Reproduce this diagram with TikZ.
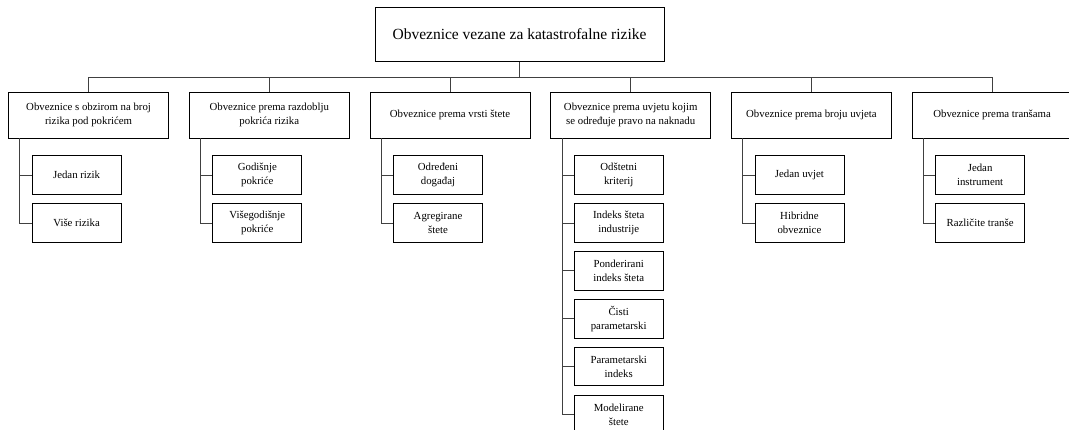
\documentclass[tikz,border=0pt]{standalone}
\usepackage{fontspec}
\setmainfont{Liberation Serif}
\usetikzlibrary{positioning}

\begin{document}
\begin{tikzpicture}[
        node distance=8.7pt and 20pt,
        root/.style={rectangle, draw=black, line width=0.7pt, minimum width=289pt, minimum height=54.4pt, align=center, font=\fontsize{15.5}{18}\selectfont},
        group/.style={rectangle, draw=black, line width=0.7pt, minimum width=160pt, minimum height=46pt, align=center, inner sep=2pt, font=\fontsize{10.8}{14}\selectfont},
        leaf/.style={rectangle, draw=black, line width=0.7pt, minimum width=89pt, minimum height=38.5pt, align=center, inner sep=2pt, font=\fontsize{10.8}{14}\selectfont},
        link/.style={draw=black!75, line width=0.7pt}
    ]
        \useasboundingbox (0,0) rectangle (1069pt,-429pt);

        \node[root] (ROOT) at (519.5pt,-34.5pt) {Obveznice vezane za katastrofalne rizike};
        \coordinate (BUS) at (0,-77pt);

        \node[group] (B1) at (88.6pt,-115pt) {Obveznice s obzirom na broj\\rizika pod pokrićem};
        \node[group, right=of B1] (B2) {Obveznice prema razdoblju\\pokrića rizika};
        \node[group, right=of B2] (B3) {Obveznice prema vrsti štete};
        \node[group, right=of B3] (B4) {Obveznice prema uvjetu kojim\\se određuje pravo na naknadu};
        \node[group, right=of B4] (B5) {Obveznice prema broju uvjeta};
        \node[group, right=of B5] (B6) {Obveznice prema tranšama};

        \node[leaf, below right=17pt and 23.5pt of B1.south west] (C11) {Jedan rizik};
        \node[leaf, below=of C11] (C12) {Više rizika};

        \node[leaf, below right=17pt and 23.5pt of B2.south west] (C21) {Godišnje\\pokriće};
        \node[leaf, below=of C21] (C22) {Višegodišnje\\pokriće};

        \node[leaf, below right=17pt and 23.5pt of B3.south west] (C31) {Određeni\\događaj};
        \node[leaf, below=of C31] (C32) {Agregirane\\štete};

        \node[leaf, below right=17pt and 23.5pt of B4.south west] (C41) {Odštetni\\kriterij};
        \node[leaf, below=of C41] (C42) {Indeks šteta\\industrije};
        \node[leaf, below=of C42] (C43) {Ponderirani\\indeks šteta};
        \node[leaf, below=of C43] (C44) {Čisti\\parametarski};
        \node[leaf, below=of C44] (C45) {Parametarski\\indeks};
        \node[leaf, below=of C45] (C46) {Modelirane\\štete};

        \node[leaf, below right=17pt and 23.5pt of B5.south west] (C51) {Jedan uvjet};
        \node[leaf, below=of C51] (C52) {Hibridne\\obveznice};

        \node[leaf, below right=17pt and 23.5pt of B6.south west] (C61) {Jedan\\instrument};
        \node[leaf, below=of C61] (C62) {Različite tranše};

        \draw[link] (ROOT.south) -- (ROOT.south |- BUS);
        \draw[link] (B1.north |- BUS) -- (B6.north |- BUS);
        \draw[link] (B1.north) -- (B1.north |- BUS);
        \draw[link] (B2.north) -- (B2.north |- BUS);
        \draw[link] (B3.north) -- (B3.north |- BUS);
        \draw[link] (B4.north) -- (B4.north |- BUS);
        \draw[link] (B5.north) -- (B5.north |- BUS);
        \draw[link] (B6.north) -- (B6.north |- BUS);

        \draw[link] ([xshift=11.5pt]B1.south west) |- (C11.west);
        \draw[link] ([xshift=11.5pt]B1.south west) |- (C12.west);
        \draw[link] ([xshift=11.5pt]B2.south west) |- (C21.west);
        \draw[link] ([xshift=11.5pt]B2.south west) |- (C22.west);
        \draw[link] ([xshift=11.5pt]B3.south west) |- (C31.west);
        \draw[link] ([xshift=11.5pt]B3.south west) |- (C32.west);
        \draw[link] ([xshift=11.5pt]B4.south west) |- (C41.west);
        \draw[link] ([xshift=11.5pt]B4.south west) |- (C42.west);
        \draw[link] ([xshift=11.5pt]B4.south west) |- (C43.west);
        \draw[link] ([xshift=11.5pt]B4.south west) |- (C44.west);
        \draw[link] ([xshift=11.5pt]B4.south west) |- (C45.west);
        \draw[link] ([xshift=11.5pt]B4.south west) |- (C46.west);
        \draw[link] ([xshift=11.5pt]B5.south west) |- (C51.west);
        \draw[link] ([xshift=11.5pt]B5.south west) |- (C52.west);
        \draw[link] ([xshift=11.5pt]B6.south west) |- (C61.west);
        \draw[link] ([xshift=11.5pt]B6.south west) |- (C62.west);
    \end{tikzpicture}
\end{document}
